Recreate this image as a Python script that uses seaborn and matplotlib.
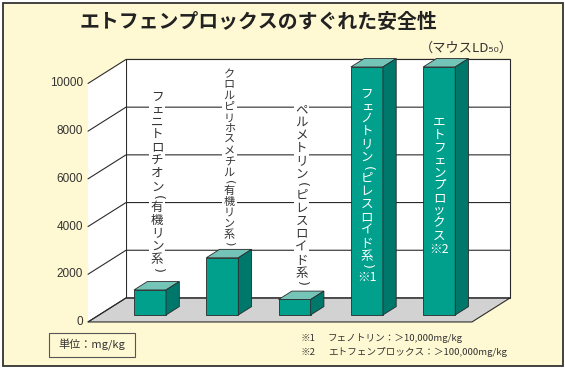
import numpy as np
import pandas as pd
import matplotlib
matplotlib.use("Agg")
import matplotlib.pyplot as plt
import matplotlib.transforms as mtransforms
from matplotlib.patches import Polygon, Rectangle
import seaborn as sns

# ---------------- data ----------------
title = "エトフェンプロックスのすぐれた安全性"
subtitle = "（マウスLD₅₀）"
compounds = ["フェニトロチオン（有機リン系）",
             "クロルピリホスメチル（有機リン系）",
             "ペルメトリン（ピレスロイド系）",
             "フェノトリン（ピレスロイド系）※1",
             "エトフェンプロックス※2"]
ld50 = [1050, 2400, 650, 10400, 10400]
yticks = [0, 2000, 4000, 6000, 8000, 10000]
note_marks = ["※1", "※2"]
note_texts = ["フェノトリン：＞10,000mg/kg", "エトフェンプロックス：＞100,000mg/kg"]
unit_label = "単位：mg/kg"

# ---------------- style ----------------
W, H, DPI = 565, 372, 100
CREAM = "#FFF9D3"
FRONT = "#00A08D"
SIDE = "#00776B"
TOP = "#74C5B8"
FLOOR = "#D2D2D2"
LINE = "#2b2b2b"
TXT = "#333333"
label_pitch = [13, 11, 13, 13, 13]
label_size = [9, 8, 9, 9, 9]
label_gap = [16, 11, 12]

sns.set_theme(style="white")
plt.rcParams['font.family'] = ['Noto Sans CJK JP', 'DejaVu Sans']

fig = plt.figure(figsize=(W / DPI, H / DPI), dpi=DPI, facecolor="white")
panel = Rectangle((3 / W, 1 - 366 / H), 560 / W, 363 / H, transform=fig.transFigure,
                  fc=CREAM, ec="#333333", lw=1.3, zorder=-5)
fig.patches.append(panel)

ax = fig.add_axes([0, 0, 1, 1])
ax.set_facecolor("none")
df = pd.DataFrame({"compound": compounds, "ld50": ld50})
sns.barplot(data=df, x="compound", y="ld50", width=0.443, color=FRONT, saturation=1,
            edgecolor=LINE, linewidth=0.6, ax=ax, zorder=3)
bars = list(ax.patches)

PXX = 72.3        # pixels per category
PXY = 0.02385     # pixels per mg/kg
ax.set_xlim(-150 / PXX, (W - 150) / PXX)
ax.set_ylim(-57 / PXY, (H - 57) / PXY)
ax.axis("off")

# pseudo-3D depth (full depth = 38px right, 24px up), bar plane at D0
DXf, DYf, D0 = 38 / PXX, 24 / PXY, 0.29


def P(x, y, d):
    return (x + (d - D0) * DXf, y + (d - D0) * DYf)


xl, xr = -0.705, 4.606
ymax = yticks[-1]

ax.add_patch(Polygon([P(xl, 0, 1), P(xr, 0, 1), P(xr, ymax, 1), P(xl, ymax, 1)],
                     closed=True, fc="white", ec=LINE, lw=0.8, zorder=0.5))
ax.add_patch(Polygon([P(xl, 0, 0), P(xl, 0, 1), P(xl, ymax, 1), P(xl, ymax, 0)],
                     closed=True, fc="white", ec="none", zorder=0.5))
ax.add_patch(Polygon([P(xl, 0, 0), P(xr, 0, 0), P(xr, 0, 1), P(xl, 0, 1)],
                     closed=True, fc=FLOOR, ec=LINE, lw=0.8, zorder=0.6))
for t in yticks:
    pts = [P(xl, t, 0), P(xl, t, 1), P(xr, t, 1)]
    ax.plot([p[0] for p in pts], [p[1] for p in pts], color=LINE, lw=0.8, zorder=0.7)
    x, y = P(xl, t, 0)
    ax.text(x, y, f"{t}", ha="right", va="center", fontsize=8.5, color=TXT,
            family=["Liberation Sans"],
            transform=mtransforms.offset_copy(ax.transData, fig, x=-5, y=0, units="dots"))

# 3D faces of the bars
BD = 0.35
bdx, bdy = BD * DXf, BD * DYf
for p in bars:
    x0, w, h = p.get_x(), p.get_width(), p.get_height()
    ax.add_patch(Polygon([(x0, h), (x0 + w, h), (x0 + w + bdx, h + bdy), (x0 + bdx, h + bdy)],
                         closed=True, fc=TOP, ec=LINE, lw=0.6, zorder=3))
    ax.add_patch(Polygon([(x0 + w, 0), (x0 + w + bdx, bdy), (x0 + w + bdx, h + bdy), (x0 + w, h)],
                         closed=True, fc=SIDE, ec=LINE, lw=0.6, zorder=3))

# vertical labels (tategaki)
SMALL = set("ァィゥェォッャュョ")
PARENS = {"（": "(", "）": ")"}


def tokenize(s):
    toks = []
    i = 0
    while i < len(s):
        if s[i] == "※" and i + 1 < len(s):
            toks.append(s[i:i + 2]); i += 2
        else:
            toks.append(s[i]); i += 1
    return toks


def adv(tok):
    if tok in PARENS:
        return 0.6
    if tok in SMALL:
        return 0.85
    return 1.0


for i, (name, p) in enumerate(zip(compounds, bars)):
    toks = tokenize(name)
    a = [adv(t) for t in toks]
    pitch = label_pitch[i]
    L = sum(a) * pitch
    xc = p.get_x() + p.get_width() / 2
    h = p.get_height()
    inside = h > 9000
    cum = 0.0
    for tok, ak in zip(toks, a):
        c = (cum + ak / 2) * pitch
        cum += ak
        if inside:
            ay = h / 2
            off_y = 5 + L / 2 - c
            off_x = 0
            kw = dict(color="white", zorder=4)
        else:
            ay = h
            off_y = label_gap[i] + L - c
            off_x = 7
            kw = dict(color=TXT, zorder=2, bbox=dict(fc="white", ec="none", pad=1.2))
        if tok in PARENS:
            kw["family"] = ["DejaVu Sans"]
            txt, rot = PARENS[tok], -90
        else:
            txt, rot = tok, 0
        ax.text(xc, ay, txt, ha="center", va="center", fontsize=label_size[i], rotation=rot,
                transform=mtransforms.offset_copy(ax.transData, fig, x=off_x, y=off_y, units="dots"),
                **kw)

# titles
fig.text(258 / W, 1 - 21 / H, title, ha="center", va="center", fontsize=14.3,
         fontweight="bold", color="#222222")
fig.text(513 / W, 1 - 48 / H, subtitle, ha="right", va="center", fontsize=9.5, color=TXT)

# footnotes
for k, (m, t) in enumerate(zip(note_marks, note_texts)):
    yy = 1 - (338 + 14 * k) / H
    fig.text(301 / W, yy, m, ha="left", va="center", fontsize=6.9, color=TXT)
    fig.text(328 / W, yy, t, ha="left", va="center", fontsize=6.9, color=TXT)

# unit box
fig.patches.append(Rectangle((49 / W, 1 - 357 / H), 86 / W, 24 / H, transform=fig.transFigure,
                             fc=CREAM, ec="#555555", lw=0.8, zorder=1))
fig.text(92 / W, 1 - 345 / H, unit_label, ha="center", va="center", fontsize=8, color=TXT)

fig.savefig("out.png", dpi=DPI, facecolor="white")
